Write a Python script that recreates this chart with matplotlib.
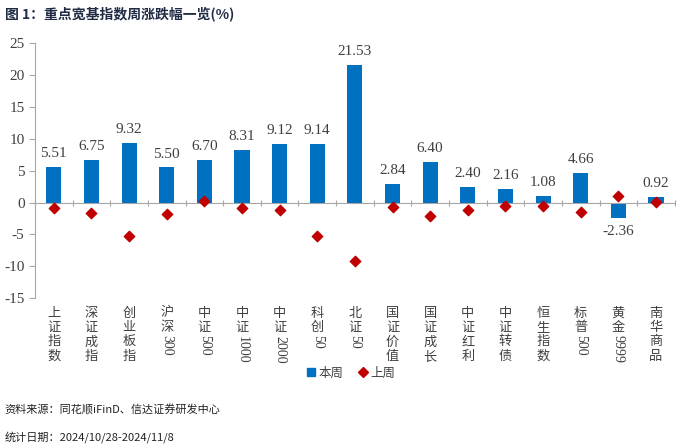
import re
import matplotlib
matplotlib.use("Agg")
from matplotlib import pyplot as plt
from matplotlib.lines import Line2D

CJK = "Noto Sans CJK SC"
SERIF = "Liberation Serif"

categories = ["上证指数", "深证成指", "创业板指", "沪深300", "中证500", "中证1000",
              "中证2000", "科创50", "北证50", "国证价值", "国证成长", "中证红利",
              "中证转债", "恒生指数", "标普500", "黄金9999", "南华商品"]
this_week = [5.51, 6.75, 9.32, 5.50, 6.70, 8.31, 9.12, 9.14, 21.53, 2.84, 6.40,
             2.40, 2.16, 1.08, 4.66, -2.36, 0.92]
last_week = [-0.89, -1.67, -5.24, -1.78, 0.31, -0.84, -1.10, -5.28, -9.10, -0.73,
             -2.15, -1.10, -0.58, -0.47, -1.41, 0.99, 0.05]
y_ticks = [-15, -10, -5, 0, 5, 10, 15, 20, 25]

BLUE = "#0070C0"
RED = "#C00000"
GREY = "#404040"

fig = plt.figure(figsize=(7, 4.45), dpi=100)
ax = fig.add_axes([0.05, 0.330, 0.914, 0.573])

x = list(range(len(categories)))
ax.bar(x, this_week, width=0.4, color=BLUE, zorder=2)
ax.scatter(x, last_week, marker="D", s=28, color=RED, zorder=3)

# value labels on the bars
for xi, v in zip(x, this_week):
    off = 5 if v >= 0 else -5
    ax.annotate(f"{v:.2f}", xy=(xi, v), xytext=(0, off), textcoords="offset points",
                ha="center", va="bottom" if v >= 0 else "top",
                fontsize=11, family=SERIF, color=GREY)

ax.set_xlim(-0.5, len(categories) - 0.5)
ax.set_ylim(-15, 25)
ax.set_yticks(y_ticks)
ax.set_yticklabels([str(t) for t in y_ticks], family=SERIF, fontsize=11, color=GREY)

for s in ["top", "right"]:
    ax.spines[s].set_visible(False)
ax.spines["left"].set_color("#a6a6a6")
ax.spines["bottom"].set_position(("data", 0))
ax.spines["bottom"].set_color("#a6a6a6")
ax.tick_params(axis="y", colors="#a6a6a6", labelcolor=GREY, length=4, direction="out")
ax.set_xticks([i - 0.5 for i in range(len(categories) + 1)])
ax.set_xticklabels([])
ax.tick_params(axis="x", colors="#a6a6a6", length=4, direction="inout")

# vertical category labels below the plot area
step = 10.4
digit_w = 5.3
for xi, name in zip(x, categories):
    cursor = 5.5
    for part in re.findall(r"\d+|\D", name):
        if part.isdigit():
            h = len(part) * digit_w
            ax.annotate(part, xy=(xi, 0), xycoords=ax.get_xaxis_transform(),
                        xytext=(0, -(cursor + h / 2)), textcoords="offset points",
                        rotation=270, ha="center", va="center",
                        fontsize=10, family=SERIF, color=GREY)
            cursor += h
        else:
            ax.annotate(part, xy=(xi, 0), xycoords=ax.get_xaxis_transform(),
                        xytext=(0, -(cursor + step / 2)), textcoords="offset points",
                        ha="center", va="center", fontsize=9.5, family=CJK, color=GREY)
            cursor += step

handles = [Line2D([], [], marker="s", linestyle="", color=BLUE, markersize=6),
           Line2D([], [], marker="D", linestyle="", color=RED, markersize=5.5)]
fig.legend(handles, ["本周", "上周"], loc="center", bbox_to_anchor=(0.5, 1 - 373 / 445),
           ncol=2, frameon=False, prop={"family": CJK, "size": 9},
           handletextpad=0.1, columnspacing=1.0, handlelength=1.0, labelcolor=GREY)

fig.text(0.007, 1 - 14 / 445, "图 1：重点宽基指数周涨跌幅一览(%)", family=CJK,
         fontsize=10, fontweight="bold", color="#1f2a44", va="center")
fig.text(0.007, 1 - 410 / 445, "资料来源：同花顺iFinD、信达证券研发中心", family=CJK,
         fontsize=8, color="#222222", va="center")
fig.text(0.007, 1 - 437 / 445, "统计日期：2024/10/28-2024/11/8", family=CJK,
         fontsize=8, color="#222222", va="center")

fig.savefig("out.png", dpi=100)
